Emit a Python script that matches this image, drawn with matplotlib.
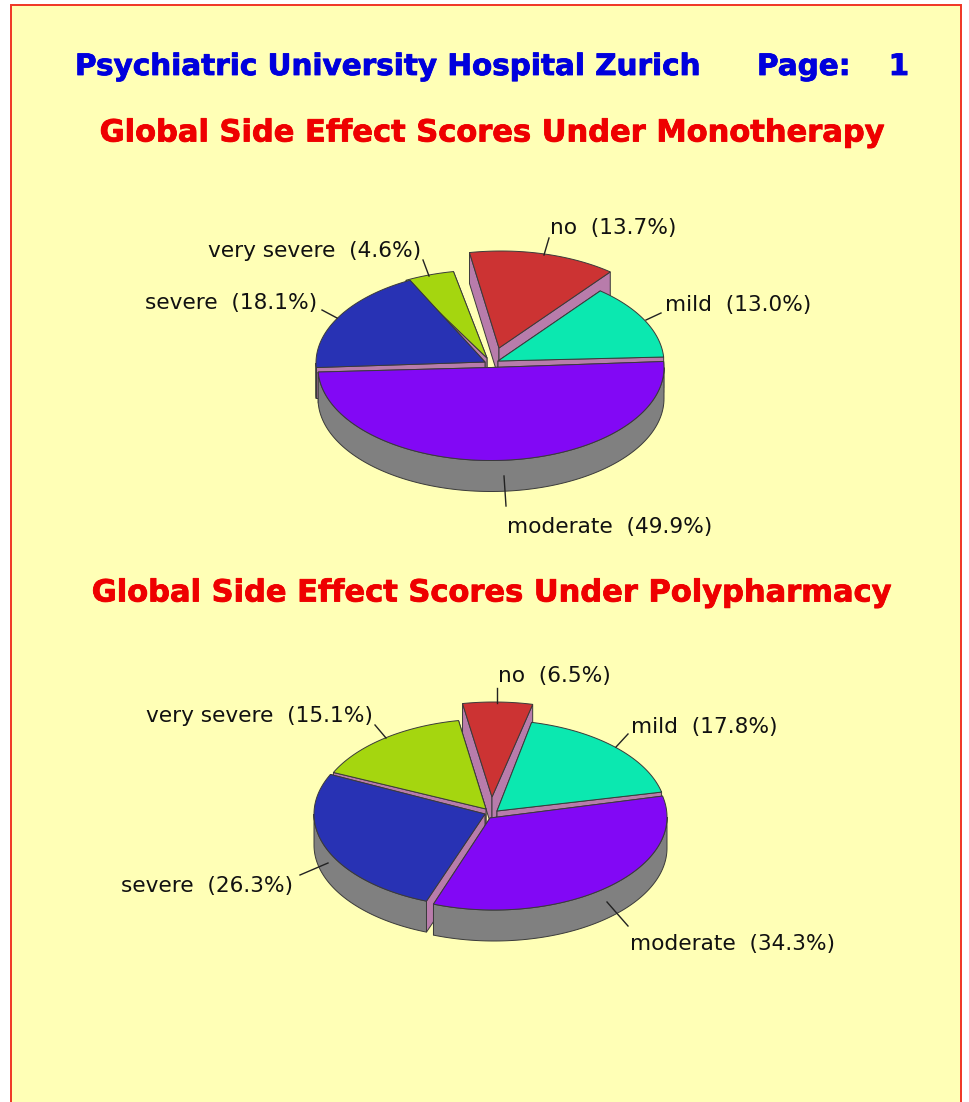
import numpy as np
import matplotlib
matplotlib.use("Agg")
import matplotlib.pyplot as plt
import matplotlib.patheffects as pe
from matplotlib.patches import Polygon, Rectangle

W, H = 969, 1102
BG = "#FFFFB6"

# ---- data ----
categories = ["no", "mild", "moderate", "severe", "very severe"]
mono_values = [13.7, 13.0, 49.9, 18.1, 4.6]
poly_values = [6.5, 17.8, 34.3, 26.3, 15.1]

slice_colors = ["#CC3333", "#0BE8B0", "#8208F5", "#2832B4", "#A5D60F"]
WALL = "#B87CAB"
RIM = "#808080"
EDGE = "#3A3A3A"

header = "Psychiatric University Hospital Zurich"
page_label = "Page:"
page_number = "1"
title_mono = "Global Side Effect Scores Under Monotherapy"
title_poly = "Global Side Effect Scores Under Polypharmacy"

# ---- layout (pixels) ----
RX, RY, DEPTH = 173, 93, 31
# "center" = centre of a slice's arc, "tip" = where its two straight edges meet
mono_layout = dict(
    mild_end=3.7,
    center={"no": (501, 344), "mild": (491, 363), "moderate": (491, 367.5),
            "severe": (489, 363), "very severe": (485, 363)},
    tip={"no": (499, 348), "mild": (498, 361), "moderate": (491, 367.5),
         "severe": (485, 362), "very severe": (487, 358)},
    text={"no": (550, 228), "mild": (665, 305), "moderate": (507, 527),
          "severe": (145, 303), "very severe": (208, 251)},
    lead={"no": ((549, 238), (544, 255)), "mild": ((661, 313), (646, 320)),
          "moderate": ((504, 476), (506, 506)), "severe": ((322, 310), (337, 318)),
          "very severe": ((423, 260), (429, 276))},
)
poly_layout = dict(
    mild_end=13,
    center={"no": (494, 795), "mild": (493, 813), "moderate": (494, 817),
            "severe": (487, 814), "very severe": (490, 812)},
    tip={"no": (492, 797), "mild": (497, 811), "moderate": (490, 818),
         "severe": (485, 814), "very severe": (486, 809)},
    text={"no": (498, 676), "mild": (631, 727), "moderate": (630, 944),
          "severe": (121, 886), "very severe": (146, 716)},
    lead={"no": ((497, 688), (497, 703)), "mild": ((628, 734), (616, 747)),
          "moderate": ((607, 902), (628, 926)), "severe": ((300, 875), (328, 863)),
          "very severe": ((375, 725), (386, 738))},
)

LABEL_FS = 15.6
HEAD_FS = 21.2
TITLE_FS = 21.95

fig = plt.figure(figsize=(W / 100, H / 100), dpi=100, facecolor="white")
ax = fig.add_axes([0, 0, 1, 1])
ax.set_xlim(0, W)
ax.set_ylim(H, 0)
ax.axis("off")
ax.add_patch(Rectangle((11, 5), 950, H + 20, facecolor=BG, edgecolor="#F03525", lw=1.4, zorder=0))


def ell(center, deg):
    t = np.radians(deg)
    return np.column_stack([center[0] + RX * np.cos(t), center[1] - RY * np.sin(t)])


def draw_pie(values, layout):
    total = sum(values)
    sweeps = {c: 360 * v / total for c, v in zip(categories, values)}
    start = layout["mild_end"]
    order = ["mild", "no", "very severe", "severe", "moderate"]
    spans = {}
    for c in order:
        spans[c] = (start, start + sweeps[c])
        start += sweeps[c]
    back_to_front = sorted(order, key=lambda c: -np.sin(np.radians(sum(spans[c]) / 2)))
    z = 2
    lw = 0.7
    for c in back_to_front:
        a0, a1 = spans[c]
        center = layout["center"][c]
        tip = layout["tip"][c]
        col = slice_colors[categories.index(c)]
        # radial walls, the one further back first
        for a in sorted((a0, a1), key=lambda d: -np.sin(np.radians(d))):
            p = ell(center, np.array([a]))[0]
            ax.add_patch(Polygon([tip, p, (p[0], p[1] + DEPTH), (tip[0], tip[1] + DEPTH)],
                                 facecolor=WALL, edgecolor=EDGE, lw=lw, zorder=z))
        # outer rim on the front-facing part of the arc
        for lo, hi in ((180, 360), (540, 720)):
            f0, f1 = max(a0, lo), min(a1, hi)
            if f1 > f0:
                arc = ell(center, np.linspace(f0, f1, 120))
                low = arc[::-1] + [0, DEPTH]
                ax.add_patch(Polygon(np.vstack([arc, low]), facecolor=RIM, edgecolor=EDGE,
                                     lw=lw, zorder=z))
        # top face
        arc = ell(center, np.linspace(a0, a1, 200))
        ax.add_patch(Polygon(np.vstack([[tip], arc]), facecolor=col, edgecolor=EDGE,
                             lw=lw, zorder=z))
        z += 1
    for c, v in zip(categories, values):
        (x0, y0), (x1, y1) = layout["lead"][c]
        ax.plot([x0, x1], [y0, y1], color="#222222", lw=1.0, zorder=20)
        x, y = layout["text"][c]
        ax.text(x, y, f"{c}  ({v:.1f}%)", fontsize=LABEL_FS, color="#111111",
                ha="left", va="center", family="DejaVu Sans", zorder=21)


draw_pie(mono_values, mono_layout)
draw_pie(poly_values, poly_layout)

bold = dict(family="DejaVu Sans", fontweight="bold", va="center")


def heavy(color):
    return [pe.withStroke(linewidth=0.6, foreground=color)]


ax.text(75, 67, header, color="#0000DD", fontsize=HEAD_FS, ha="left",
        path_effects=heavy("#0000DD"), **bold)
ax.text(757, 67, page_label, color="#0000DD", fontsize=HEAD_FS, ha="left",
        path_effects=heavy("#0000DD"), **bold)
ax.text(909, 67, page_number, color="#0000DD", fontsize=HEAD_FS, ha="right",
        path_effects=heavy("#0000DD"), **bold)
ax.text(491.5, 133, title_mono, color="#EE0000", fontsize=TITLE_FS, ha="center",
        path_effects=heavy("#EE0000"), **bold)
ax.text(491, 593, title_poly, color="#EE0000", fontsize=TITLE_FS, ha="center",
        path_effects=heavy("#EE0000"), **bold)

fig.savefig("out.png", dpi=100, facecolor="white")
